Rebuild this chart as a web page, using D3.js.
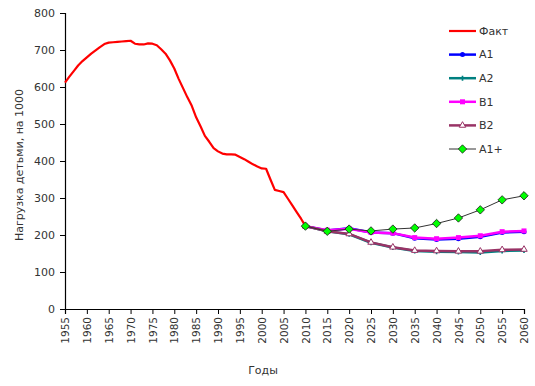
<!DOCTYPE html>
<html>
<head>
<meta charset="utf-8">
<script src="https://cdn.jsdelivr.net/npm/d3@7"></script>
<style>
  body { margin: 0; background: #fff; }
  text { font-family: "DejaVu Sans", Verdana, sans-serif; fill: #333; }
</style>
</head>
<body>
<div id="chart"></div>
<script>
// fact: annual values
const factYears = d3.range(1955, 2011);
const factValues = [
  612, 628, 643, 658, 670, 680, 690, 699, 708, 716,
  720, 721, 722, 723, 724, 725, 717, 715, 715, 718,
  717, 713, 702, 690, 672, 650, 622, 597, 572, 549,
  518, 494, 468, 452, 435, 426, 420, 418, 418, 417,
  411, 405, 398, 391, 385, 380, 379, 350, 322, 319,
  316, 298, 280, 262, 244, 224
];

// scenarios, every 5 years
const scenYears = [2010, 2015, 2020, 2025, 2030, 2035, 2040, 2045, 2050, 2055, 2060];
const a1 = [224, 212, 218, 207, 205, 191, 188, 190, 195, 207, 209];
const a2 = [224, 210, 202, 179, 166, 157, 155, 154, 153, 157, 158];
const b1 = [224, 213, 217, 207, 205, 193, 190, 193, 198, 209, 211];
const b2 = [224, 210, 203, 180, 167, 158, 157, 156, 156, 160, 161];
const a1plus = [224, 210, 216, 211, 216, 219, 231, 246, 268, 295, 306];

const yTicks = [0, 100, 200, 300, 400, 500, 600, 700, 800];
const xTicks = d3.range(1955, 2061, 5);

const width = 535;
const height = 386;
const margin = { top: 13, right: 11, bottom: 77, left: 65 };

const svg = d3.select('#chart').append('svg')
  .attr('width', width)
  .attr('height', height);

const x = d3.scaleLinear()
  .domain([1955, 2060])
  .range([margin.left, width - margin.right]);

const y = d3.scaleLinear()
  .domain([0, 800])
  .range([height - margin.bottom, margin.top]);

// axes
const yAxis = svg.append('g')
  .attr('transform', `translate(${margin.left},0)`)
  .call(d3.axisLeft(y).tickValues(yTicks).tickSize(5).tickPadding(5).tickFormat(d3.format('d')));

const xAxis = svg.append('g')
  .attr('transform', `translate(0,${height - margin.bottom})`)
  .call(d3.axisBottom(x).tickValues(xTicks).tickSize(5).tickFormat(d3.format('d')));

svg.selectAll('.domain').attr('stroke', '#000').attr('stroke-width', 1.2);
svg.selectAll('.tick line').attr('stroke', '#000');
yAxis.selectAll('text').style('font-size', '11px').attr('fill', '#333');
xAxis.selectAll('text')
  .style('font-size', '10.5px')
  .attr('fill', '#333')
  .attr('transform', 'rotate(-90)')
  .attr('text-anchor', 'end')
  .attr('x', -8)
  .attr('y', 0)
  .attr('dy', '0.35em');

// axis titles
svg.append('text')
  .attr('transform', 'translate(23,165) rotate(-90)')
  .attr('text-anchor', 'middle')
  .style('font-size', '11px')
  .text('Нагрузка детьми, на 1000');

svg.append('text')
  .attr('x', 263)
  .attr('y', 374)
  .attr('text-anchor', 'middle')
  .style('font-size', '11px')
  .text('Годы');

const line = d3.line().x(d => x(d[0])).y(d => y(d[1]));

const series = [
  { name: 'Факт', years: factYears, values: factValues, color: '#ff0000', width: 2.2, marker: null },
  { name: 'A1', years: scenYears, values: a1, color: '#0000ff', width: 2.5, marker: 'circle' },
  { name: 'A2', years: scenYears, values: a2, color: '#008080', width: 2.5, marker: 'plus' },
  { name: 'B1', years: scenYears, values: b1, color: '#ff00ff', width: 2.5, marker: 'square' },
  { name: 'B2', years: scenYears, values: b2, color: '#993366', width: 2.5, marker: 'triangle' },
  { name: 'A1+', years: scenYears, values: a1plus, color: '#333333', width: 1, marker: 'diamond' }
];

function drawMarker(g, s, cx, cy) {
  if (s.marker === 'circle') {
    g.append('circle').attr('cx', cx).attr('cy', cy).attr('r', 2.5).attr('fill', s.color);
  } else if (s.marker === 'plus') {
    g.append('path').attr('d', d3.symbol(d3.symbolCross, 14)()).attr('transform', `translate(${cx},${cy})`).attr('fill', s.color);
  } else if (s.marker === 'square') {
    g.append('rect').attr('x', cx - 2.5).attr('y', cy - 2.5).attr('width', 5).attr('height', 5).attr('fill', s.color);
  } else if (s.marker === 'triangle') {
    g.append('path').attr('d', d3.symbol(d3.symbolTriangle, 18)()).attr('transform', `translate(${cx},${cy})`)
      .attr('fill', '#fff').attr('stroke', s.color).attr('stroke-width', 1);
  } else if (s.marker === 'diamond') {
    const r = 4.2;
    g.append('path')
      .attr('d', `M${cx},${cy - r}L${cx + r},${cy}L${cx},${cy + r}L${cx - r},${cy}Z`)
      .attr('fill', '#00ff00').attr('stroke', '#1a1a1a').attr('stroke-width', 0.8);
  }
}

const plot = svg.append('g');
series.forEach(s => {
  const pts = s.years.map((yr, i) => [yr, s.values[i]]);
  plot.append('path')
    .datum(pts)
    .attr('fill', 'none')
    .attr('stroke', s.color)
    .attr('stroke-width', s.width)
    .attr('stroke-linejoin', 'round')
    .attr('d', line);
  if (s.marker) {
    const mg = plot.append('g');
    pts.forEach(p => drawMarker(mg, s, x(p[0]), y(p[1])));
  }
});

// legend
const legend = svg.append('g');
series.forEach((s, i) => {
  const ly = 31 + i * 23.6;
  legend.append('line')
    .attr('x1', 449).attr('x2', 476)
    .attr('y1', ly).attr('y2', ly)
    .attr('stroke', s.color)
    .attr('stroke-width', s.width);
  if (s.marker) drawMarker(legend, s, 462.5, ly);
  legend.append('text')
    .attr('x', 479)
    .attr('y', ly)
    .attr('dy', '0.35em')
    .style('font-size', '11px')
    .text(s.name);
});
</script>
</body>
</html>
